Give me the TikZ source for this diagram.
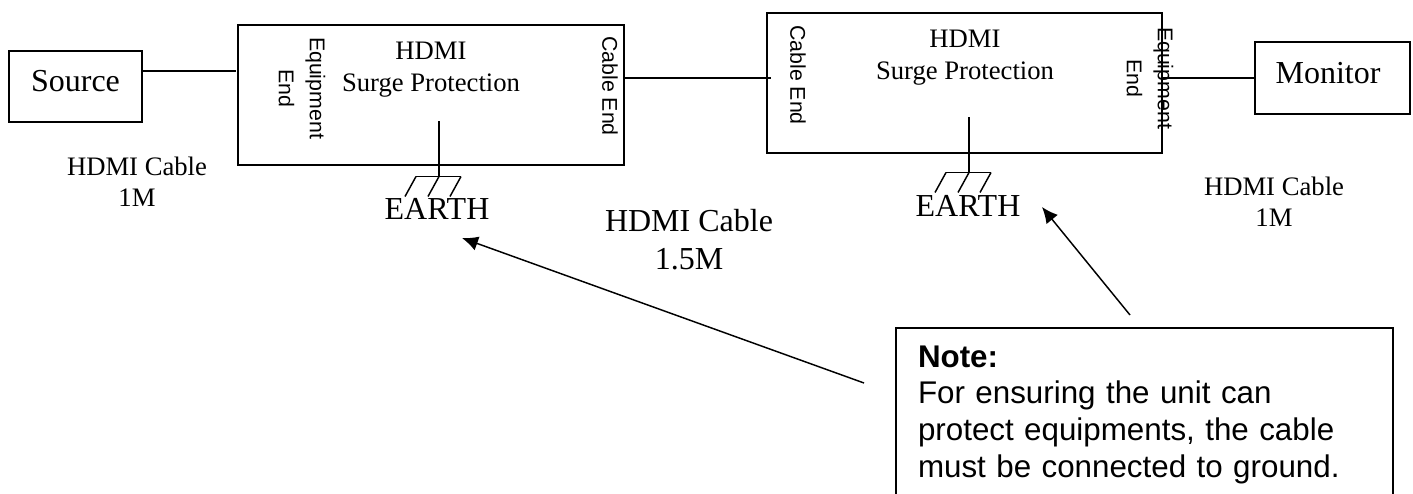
\documentclass[tikz,border=0pt]{standalone}
\usepackage{fontspec}
\setmainfont{Liberation Serif}
\newfontfamily\arialfont{Liberation Sans}
\usetikzlibrary{arrows.meta}

\begin{document}
\begin{tikzpicture}[x=0.75pt,y=-0.75pt]
    \tikzstyle{UnitStyle}=[shape = rectangle, draw, line width = 1.1pt, inner sep = 0pt, outer sep = 0pt, anchor = north west]
    \tikzstyle{EndStyle}=[rotate = -90, align = center, inner sep = 0pt, font = \arialfont\fontsize{16}{23.25}\selectfont]
    \tikzstyle{TitleStyle}=[align = center, inner sep = 0pt, anchor = base, font = \fontsize{20}{24}\selectfont]
    \tikzstyle{CableStyle}=[align = center, inner sep = 0pt, anchor = base, font = \fontsize{20}{23.25}\selectfont]
    \tikzstyle{BigStyle}=[inner sep = 0pt, anchor = base, font = \fontsize{24}{28.5}\selectfont]
    \tikzstyle{WireStyle}=[line width = 1.1pt]
    \tikzstyle{PointerStyle}=[line width = 1.1pt, -{Latex[length = 12pt, width = 11pt]}]
    \clip (0,0) rectangle (1413,493);
    \useasboundingbox (0,0) rectangle (1413,493);
    % boxes
    \node[UnitStyle, minimum width = 99.75pt, minimum height = 53.25pt, text height = 12pt, text depth = 5.2pt, font = \fontsize{24}{28}\selectfont] (source) at (9,51) {Source};
    \node[UnitStyle, minimum width = 289.5pt, minimum height = 105pt] (protA) at (238,25) {};
    \node[UnitStyle, minimum width = 296.25pt, minimum height = 105pt] (protB) at (767,13) {};
    \node[UnitStyle, minimum width = 116.25pt, minimum height = 54pt, text height = 12pt, text depth = 4.5pt, font = \fontsize{24}{28}\selectfont] (monitor) at (1255,42) {Monitor\hspace*{6.75pt}};
    \node[UnitStyle, align = left, text width = 339.75pt, inner xsep = 16.5pt, inner ysep = 13.25pt, font = \arialfont\fontsize{23.5}{27.5}\selectfont] (note) at (896,328) {\textbf{Note:}\\For ensuring the unit can\\protect equipments, the cable\\must be connected to ground.};
    % texts in the boxes
    \node[TitleStyle] (titleA) at (431,91) {HDMI\\Surge Protection};
    \node[TitleStyle] (titleB) at (965,79) {HDMI\\Surge Protection};
    \node[EndStyle] (eqA) at (302,88) {Equipment\\End};
    \node[EndStyle] (cableA) at (610,86) {Cable End};
    \node[EndStyle] (cableB) at (798,75) {Cable End};
    \node[EndStyle] (eqB) at (1150,78) {Equipment\\End};
    % cable texts
    \node[CableStyle] (cableOne) at (137,206) {HDMI Cable\\1M};
    \node[CableStyle, font = \fontsize{24}{28.5}\selectfont] (cableTwo) at (689,269) {HDMI Cable\\1.5M};
    \node[CableStyle] (cableThree) at (1274,226) {HDMI Cable\\1M};
    \node[BigStyle] (earthA) at (437,219) {EARTH};
    \node[BigStyle] (earthB) at (968,216) {EARTH};
    % wires
    \coordinate (wireA) at (0,71);
    \coordinate (wireB) at (0,78);
    \coordinate (tipA) at (462,238);
    \coordinate (tipB) at (1042,207);
    \coordinate (tailA) at (864,383);
    \coordinate (tailB) at (1130,315);
    \draw[WireStyle] (source.east |- wireA) -- ([xshift = -1.5pt]protA.west |- wireA);
    \draw[WireStyle] (protA.east |- wireB) -- ([xshift = 3pt]protB.west |- wireB);
    \draw[WireStyle] (protB.east |- wireB) -- (monitor.west |- wireB);
    % earth
    \coordinate (groundA) at (439,121);
    \coordinate (groundB) at (969,117);
    \foreach \g in {A,B}
    {
      \draw[WireStyle] (ground\g) -- ++(0,55.5) coordinate (bar\g);
      \draw[WireStyle] ([xshift = -17.25pt]bar\g) -- ([xshift = 16.5pt]bar\g);
      \foreach \s in {-17.25,0,16.5}
        \draw[WireStyle] ([xshift = \s pt]bar\g) -- ++(-11,20);
    }
    % pointers
    \draw[PointerStyle] (tailA) -- (tipA);
    \draw[PointerStyle] (tailB) -- (tipB);
\end{tikzpicture}
\end{document}
